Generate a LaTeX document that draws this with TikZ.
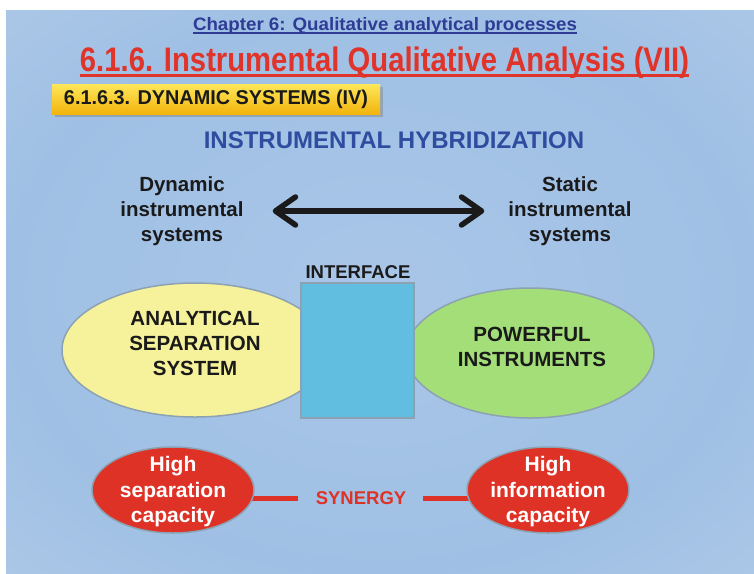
\documentclass[tikz,border=0pt]{standalone}
\usepackage{fontspec}
\setmainfont{Liberation Sans}
\usepackage{graphicx}
\usetikzlibrary{arrows.meta,shapes.geometric,shadows}
\definecolor{bgA}{HTML}{A9C6E8}
\definecolor{bgB}{HTML}{9FC0E4}
\definecolor{bgC}{HTML}{B2CBE9}
\definecolor{bgD}{HTML}{C8D9EF}
\definecolor{bgE}{HTML}{E0E0F3}
\definecolor{bgF}{HTML}{F5E5F6}
\definecolor{chapblue}{HTML}{2E3C96}
\definecolor{hybblue}{HTML}{2F4DA0}
\definecolor{titlered}{HTML}{E0332A}
\definecolor{ytop}{HTML}{FDE75A}
\definecolor{ybot}{HTML}{F3B40C}
\definecolor{sepyellow}{HTML}{F6F29B}
\definecolor{instgreen}{HTML}{A3DE78}
\definecolor{ifblue}{HTML}{62BEE1}
\definecolor{edgegrey}{HTML}{8CA2B2}
\definecolor{capred}{HTML}{DF3226}
\definecolor{inkblack}{HTML}{1A1A1A}
\pgfdeclareradialshading{bgshade}{\pgfpoint{0bp}{0bp}}{color(0bp)=(bgA); color(25bp)=(bgB); color(42bp)=(bgC); color(50bp)=(bgD); color(60bp)=(bgE); color(71bp)=(bgF)}
\begin{document}
\begin{tikzpicture}[x=1pt,y=-1pt,
  bodytext/.style={font=\fontsize{20.5}{25}\selectfont\bfseries, align=center, text=inkblack, inner sep=2pt},
  bigell/.style={ellipse, draw=edgegrey, line width=1.5pt, inner sep=0pt},
  redell/.style={ellipse, draw=edgegrey, line width=1.5pt, fill=capred, inner sep=0pt, minimum width=162pt, minimum height=86pt},
  redtext/.style={font=\fontsize{21}{25.5}\selectfont\bfseries, align=center, text=white, inner sep=0pt},
  synline/.style={draw=capred, line width=5pt},
  secbox/.style={rectangle, inner sep=0pt, minimum width=328pt, minimum height=30pt, top color=ytop, bottom color=ybot, drop shadow={shadow xshift=2.5pt, shadow yshift=-2.5pt, opacity=0.45}},
  bigarrow/.style={draw=inkblack, line width=5.5pt, line cap=round,
    {Straight Barb[length=20pt,width=28pt,line cap=round,line join=round]}-{Straight Barb[length=20pt,width=28pt,line cap=round,line join=round]}}
]
\useasboundingbox (0,0) rectangle (754,573);
\fill[white] (0,0) rectangle (754,573);
\shade[shading=bgshade] (6,10) rectangle (754,573);

% headings
\node[anchor=base, text=chapblue, inner sep=0pt] (chap) at (385,30)
  {\resizebox{384pt}{\height}{\fontsize{18}{20}\selectfont\bfseries Chapter 6: Qualitative analytical processes}};
\draw[chapblue, line width=1.3pt] ([yshift=-3pt]chap.base west) -- ([yshift=-3pt]chap.base east);

\node[anchor=base, text=titlered, inner sep=0pt] (title) at (384.5,71)
  {\resizebox{609pt}{\height}{\fontsize{34}{40}\selectfont\bfseries 6.1.6. Instrumental Qualitative Analysis (VII)}};
\draw[titlered, line width=3pt] ([yshift=-4.5pt]title.base west) -- ([yshift=-4.5pt]title.base east);

\node[secbox] (sec) at (216,99)
  {\resizebox{304pt}{\height}{\fontsize{20}{24}\selectfont\bfseries\color{inkblack} 6.1.6.3. DYNAMIC SYSTEMS (IV)}};

\node[anchor=base, text=hybblue, inner sep=0pt] (hyb) at (394,148)
  {\fontsize{24}{28}\selectfont\bfseries INSTRUMENTAL HYBRIDIZATION};

% dynamic / static
\node[bodytext] (dyn) at (182,211) {Dynamic\\instrumental\\systems};
\node[bodytext] (stat) at (570,211) {Static\\instrumental\\systems};
\draw[bigarrow, shorten <=27pt, shorten >=22pt] (dyn) -- (stat);

% hybrid
\node[bigell, fill=sepyellow, minimum width=266pt, minimum height=134pt] (sep) at (195,350) {};
\node[bigell, fill=instgreen, minimum width=248pt, minimum height=130pt] (inst) at (530,353) {};
\node[rectangle, draw=edgegrey, line width=1.5pt, fill=ifblue, minimum width=113pt, minimum height=135pt, inner sep=0pt] (iface) at (357.5,350.5) {};
\node[bodytext, font=\fontsize{18.5}{22}\selectfont\bfseries] (ifacelbl) at (358,272) {INTERFACE};
\node[bodytext] (septxt) at (195,343) {ANALYTICAL\\SEPARATION\\SYSTEM};
\node[bodytext] (insttxt) at (532,347) {POWERFUL\\INSTRUMENTS};

% synergy
\node[inner sep=0pt, text=capred, font=\fontsize{18.5}{22}\selectfont\bfseries] (syn) at (361,498) {SYNERGY};
\path (173,490) coordinate (lc) (548,490) coordinate (rc);
\draw[synline, shorten >=18pt] ([xshift=70pt]lc |- syn.west) -- (syn.west);
\draw[synline, shorten >=17pt] ([xshift=-70pt]rc |- syn.east) -- (syn.east);
\node[redell] (hsep) at (lc) {};
\node[redell] (hinfo) at (rc) {};
\node[redtext] (hseptxt) at ([yshift=-2pt]hsep.center) {High\\separation\\capacity};
\node[redtext] (hinfotxt) at ([yshift=-2pt]hinfo.center) {High\\information\\capacity};
\end{tikzpicture}
\end{document}
